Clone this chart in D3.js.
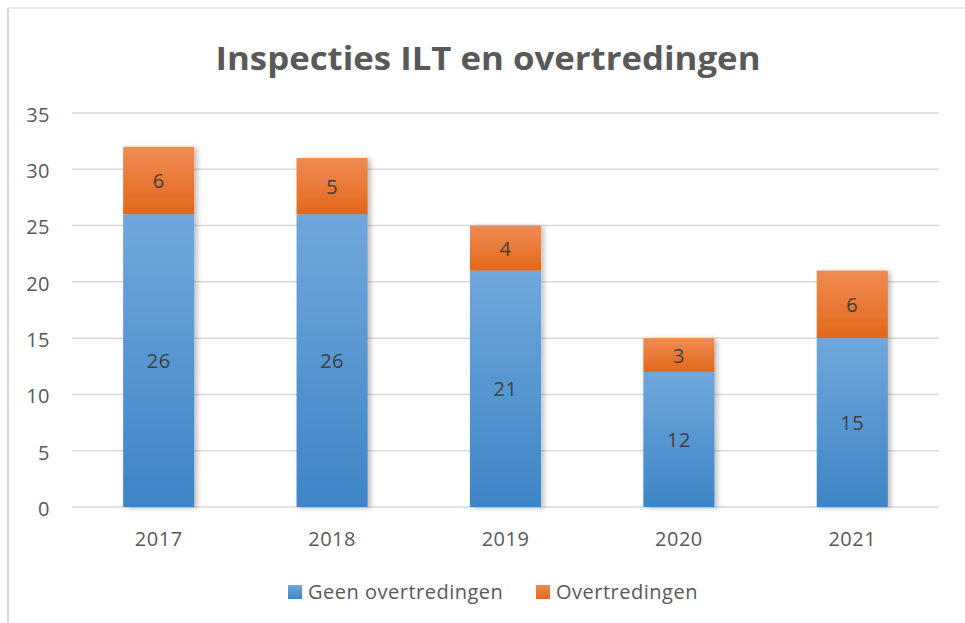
<!DOCTYPE html>
<html>
<head>
<meta charset="utf-8">
<script src="https://cdn.jsdelivr.net/npm/d3@7"></script>
<style>
  body { margin: 0; background: #fff; }
  text { font-family: "Open Sans", "Noto Sans", sans-serif; }
</style>
</head>
<body>
<div id="chart"></div>
<script>
var w = 965;
var h = 623;

// data
var years = ["2017", "2018", "2019", "2020", "2021"];
var geenOvertredingen = [26, 26, 21, 12, 15];
var overtredingen = [6, 5, 4, 3, 6];
var seriesNames = ["Geen overtredingen", "Overtredingen"];
var yTicks = [0, 5, 10, 15, 20, 25, 30, 35];

var margin = {left: 72, right: 26, top: 113, bottom: 116};

var svg = d3.select("#chart")
    .append("svg")
    .attr("width", w)
    .attr("height", h);

var defs = svg.append("defs");

// gradients for the bars
function grad(id, top, bottom) {
    var g = defs.append("linearGradient")
        .attr("id", id)
        .attr("x1", 0).attr("y1", 0).attr("x2", 0).attr("y2", 1);
    g.append("stop").attr("offset", "0%").attr("stop-color", top);
    g.append("stop").attr("offset", "100%").attr("stop-color", bottom);
}
grad("blueGrad", "#6fa7dc", "#3e85c6");
grad("orangeGrad", "#f08b52", "#e2681c");

var shadow = defs.append("filter")
    .attr("id", "shadow")
    .attr("x", "-20%").attr("y", "-10%")
    .attr("width", "150%").attr("height", "120%");
shadow.append("feDropShadow")
    .attr("dx", 3).attr("dy", 1)
    .attr("stdDeviation", 2.5)
    .attr("flood-color", "#000")
    .attr("flood-opacity", 0.25);

// chart border (only top and left show)
svg.append("line")
    .attr("x1", 8).attr("y1", 8).attr("x2", w).attr("y2", 8)
    .attr("stroke", "#e3e3e3").attr("stroke-width", 1.5);
svg.append("line")
    .attr("x1", 8).attr("y1", 8).attr("x2", 8).attr("y2", h)
    .attr("stroke", "#d9d9d9").attr("stroke-width", 2);

var xScale = d3.scaleBand()
    .domain(years)
    .range([margin.left, w - margin.right])
    .paddingInner(0.59)
    .paddingOuter(0.295);

var yScale = d3.scaleLinear()
    .domain([0, 35])
    .range([h - margin.bottom, margin.top]);

// gridlines
svg.append("g")
    .selectAll("line")
    .data(yTicks)
    .enter()
    .append("line")
    .attr("x1", margin.left)
    .attr("x2", w - margin.right)
    .attr("y1", function(d) { return yScale(d); })
    .attr("y2", function(d) { return yScale(d); })
    .attr("stroke", "#d9d9d9")
    .attr("stroke-width", 1.5);

// y axis labels
var yAxis = d3.axisLeft(yScale).tickValues(yTicks).tickSize(0).tickPadding(22);
var gy = svg.append("g")
    .attr("class", "y axis")
    .attr("transform", "translate(" + margin.left + ",0)")
    .call(yAxis);
gy.select(".domain").remove();
gy.selectAll("text")
    .attr("fill", "#595959")
    .attr("dy", "0.42em")
    .style("font-size", "20px")
    .style("letter-spacing", "0.5px");

// x axis labels
var xAxis = d3.axisBottom(xScale).tickSize(0).tickPadding(25);
var gx = svg.append("g")
    .attr("class", "x axis")
    .attr("transform", "translate(0," + (h - margin.bottom) + ")")
    .call(xAxis);
gx.select(".domain").remove();
gx.selectAll("text")
    .attr("fill", "#595959")
    .style("font-size", "20px")
    .style("letter-spacing", "0.5px");

// stacked data
var stackData = years.map(function(y, i) {
    return {year: y, geen: geenOvertredingen[i], over: overtredingen[i]};
});
var stack = d3.stack().keys(["geen", "over"]);
var series = stack(stackData);
var fills = ["url(#blueGrad)", "url(#orangeGrad)"];

// bars
svg.append("g")
    .attr("filter", "url(#shadow)")
    .selectAll("g")
    .data(series)
    .enter()
    .append("g")
    .attr("fill", function(d, i) { return fills[i]; })
    .selectAll("rect")
    .data(function(d) { return d; })
    .enter()
    .append("rect")
    .attr("x", function(d) { return xScale(d.data.year); })
    .attr("y", function(d) { return yScale(d[1]); })
    .attr("width", xScale.bandwidth())
    .attr("height", function(d) { return yScale(d[0]) - yScale(d[1]); });

// value labels
series.forEach(function(s) {
    svg.append("g")
        .selectAll("text")
        .data(s)
        .enter()
        .append("text")
        .attr("x", function(d) { return xScale(d.data.year) + xScale.bandwidth() / 2; })
        .attr("y", function(d) { return (yScale(d[0]) + yScale(d[1])) / 2; })
        .attr("dy", "0.38em")
        .attr("text-anchor", "middle")
        .attr("fill", "#404040")
        .style("font-size", "20px")
        .style("letter-spacing", "0.5px")
        .text(function(d) { return d[1] - d[0]; });
});

// title
svg.append("text")
    .attr("x", 488)
    .attr("y", 70)
    .attr("text-anchor", "middle")
    .attr("fill", "#595959")
    .style("font-size", "33px")
    .style("font-weight", "bold")
    .attr("textLength", 545)
    .attr("lengthAdjust", "spacingAndGlyphs")
    .text("Inspecties ILT en overtredingen");

// legend
var legendX = [288, 536];
var legendColors = ["url(#blueGrad)", "url(#orangeGrad)"];
var legend = svg.append("g")
    .selectAll("g")
    .data(seriesNames)
    .enter()
    .append("g")
    .attr("transform", function(d, i) { return "translate(" + legendX[i] + ",585)"; });
legend.append("rect")
    .attr("width", 14)
    .attr("height", 14)
    .attr("fill", function(d, i) { return legendColors[i]; });
legend.append("text")
    .attr("x", 20)
    .attr("y", 7)
    .attr("dy", "0.36em")
    .attr("fill", "#595959")
    .style("font-size", "20px")
    .style("letter-spacing", "0.5px")
    .text(function(d) { return d; });
</script>
</body>
</html>
